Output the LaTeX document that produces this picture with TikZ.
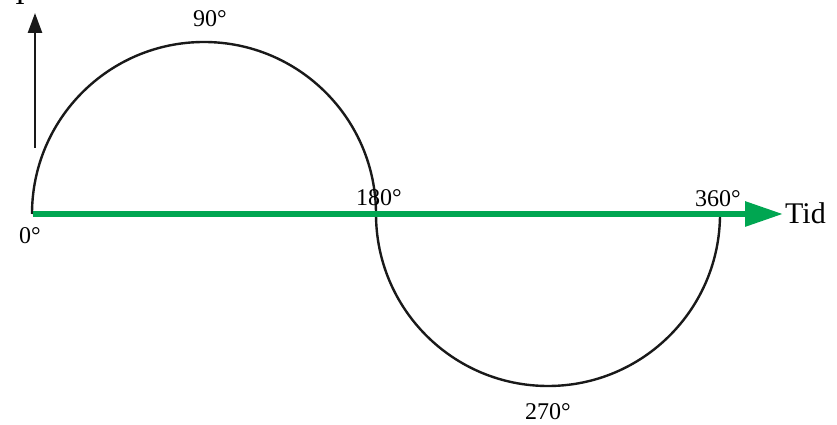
\documentclass[tikz,border=0pt]{standalone}
\usepackage{fontspec}
\setmainfont{Liberation Serif}
\usetikzlibrary{arrows.meta}
\definecolor{axisgreen}{RGB}{0,166,81}
\begin{document}
\begin{tikzpicture}[x=1pt,y=1pt,
  lbl/.style={inner sep=0pt,anchor=base,font=\fontsize{24}{28}\selectfont},
  curve/.style={line width=2.4pt,black!90},
  timeaxis/.style={line width=6pt,axisgreen,-{Triangle[length=38pt,width=24pt]}},
  valaxis/.style={line width=2.6pt,black!90,-{Triangle[length=20pt,width=14pt]}}]
\useasboundingbox (0,0) rectangle (837,425);
% coordinates
\coordinate (o) at (33,211);
\coordinate (tend) at (783,211);
\coordinate (vstart) at (35,277);
\coordinate (vend) at (35,412);
\coordinate (a0) at (32,211);
\coordinate (a180) at (376,211);
% curves
\draw[curve] (a0) arc[start angle=180,end angle=0,radius=172] coordinate (a180b);
\draw[curve] (a180) arc[start angle=180,end angle=360,radius=172] coordinate (a360);
% axes
\draw[timeaxis] (o) -- (tend);
\draw[valaxis] (vstart) -- (vend);
% labels
\node[lbl] (l0) at (30,181) {0°};
\node[lbl] (l90) at (210,398) {90°};
\node[lbl] (l180) at (379,219) {180°};
\node[lbl] (l360) at (718,218) {360°};
\node[lbl] (l270) at (548,5) {270°};
\node[inner sep=0pt,anchor=base west,font=\fontsize{30}{34}\selectfont] (tid) at (785,201) {Tid};
\node[inner sep=0pt,anchor=base,font=\fontsize{30}{34}\selectfont] (yl) at (20,420) {I};
\end{tikzpicture}
\end{document}
